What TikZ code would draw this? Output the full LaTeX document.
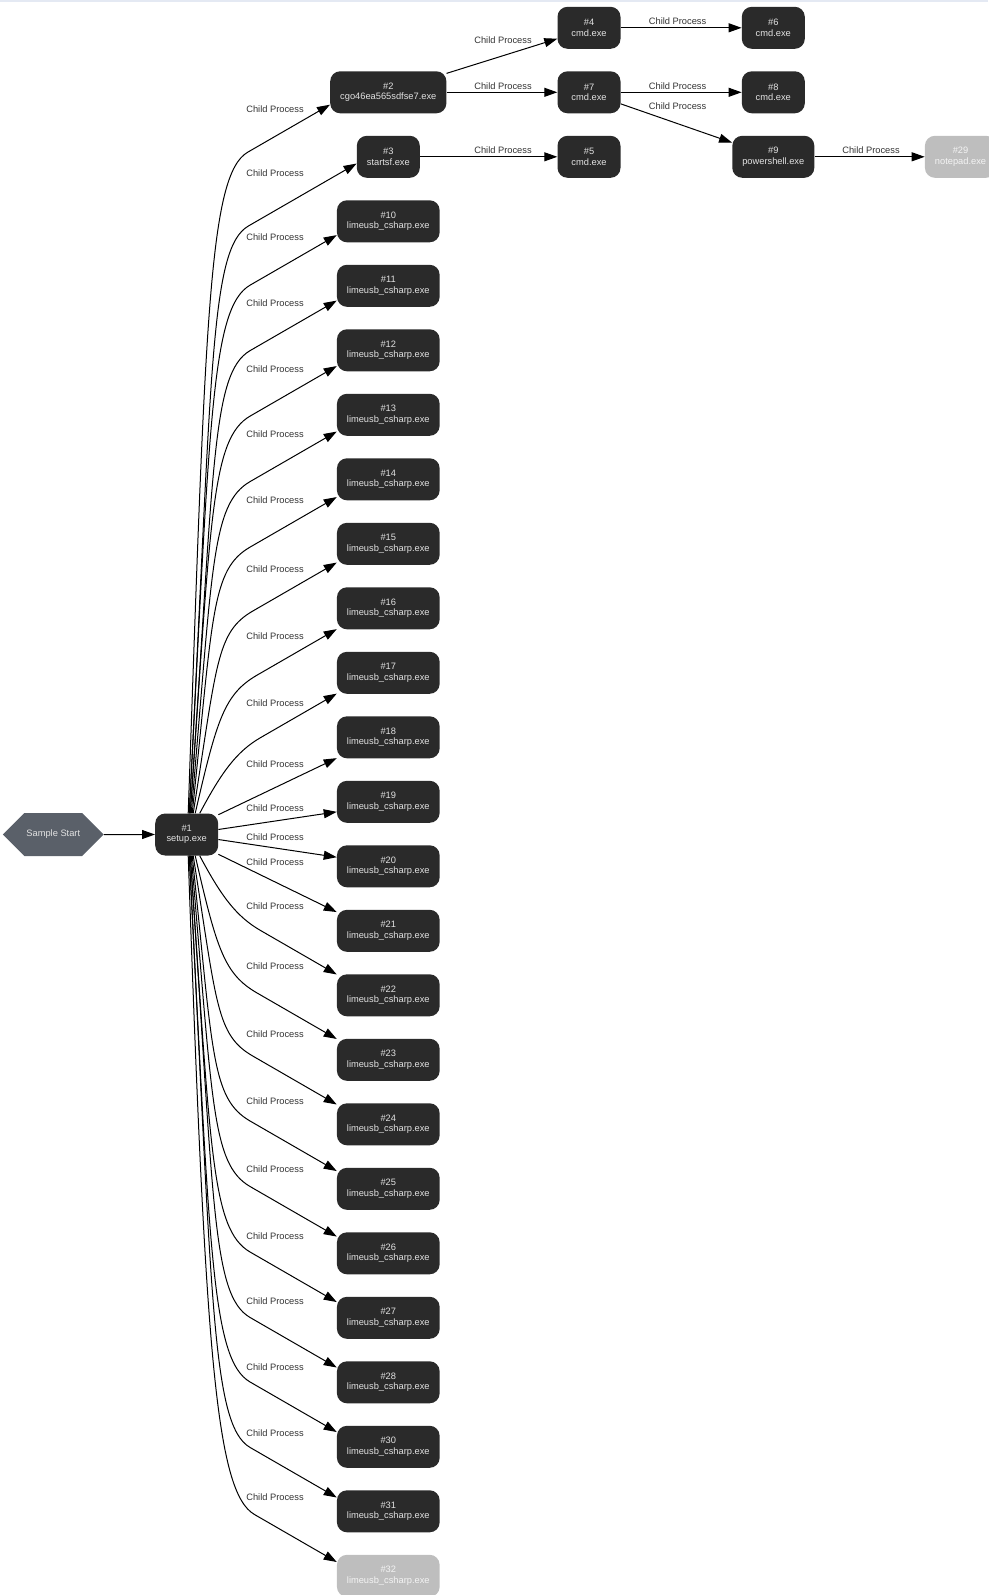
\documentclass[tikz,border=0pt]{standalone}
\usepackage{fontspec}
\setmainfont{Liberation Sans}
\usetikzlibrary{arrows.meta, shapes.symbols, positioning}
\definecolor{procfill}{HTML}{2A2A2A}
\definecolor{proctext}{HTML}{E2E2E2}
\definecolor{gonefill}{HTML}{BEBEBE}
\definecolor{gonetext}{HTML}{F4F4F4}
\definecolor{startfill}{HTML}{5A6069}
\definecolor{edgetext}{HTML}{333333}
\definecolor{topbar}{HTML}{E4E9F3}
\tikzstyle{proc} = [rectangle, rounded corners=10pt, fill=procfill, text=proctext, minimum width=63pt, minimum height=42pt, inner xsep=10pt, align=center, font=\fontsize{9.3}{10.5}\selectfont]
\tikzstyle{gone} = [proc, fill=gonefill, text=gonetext]
\tikzstyle{startnode} = [signal, signal to=east and west, signal pointer angle=90, fill=startfill, text=proctext, minimum width=97pt, minimum height=43pt, inner xsep=2pt, font=\fontsize{9.3}{10.5}\selectfont]
\tikzstyle{arrow} = [line width=1pt, -{Triangle[length=13pt, width=9pt]}]
\tikzstyle{lbl} = [text=edgetext, inner sep=0pt, font=\fontsize{9.3}{10.5}\selectfont]

\begin{document}
\begin{tikzpicture}[x=1pt, y=1pt, node distance=64.5pt]
    \useasboundingbox (0,0) rectangle (988,-1595);
    \fill [topbar] (0,0) rectangle (988,-2.2);

    \node (setup) [proc] at (186.7,-834.5) {\#1\\setup.exe};
    \node (sample) [startnode, left of=setup, node distance=133.4pt] {Sample Start};
    \node (n2) [proc] at (388.3,-92.3) {\#2\\cgo46ea565sdfse7.exe};
    \node (n3) [proc, below of=n2] {\#3\\startsf.exe};
    \foreach \n [remember=\n as \p (initially 3)] in {10,...,28,30,31}
        \node (n\n) [proc, below of=n\p] {\#\n\\limeusb\_csharp.exe};
    \node (n32) [gone, below of=n31] {\#32\\limeusb\_csharp.exe};
    \node (n7) [proc, right of=n2, node distance=200.7pt] {\#7\\cmd.exe};
    \node (n4) [proc, above of=n7] {\#4\\cmd.exe};
    \node (n5) [proc, below of=n7] {\#5\\cmd.exe};
    \node (n6) [proc, right of=n4, node distance=184.3pt] {\#6\\cmd.exe};
    \node (n8) [proc, right of=n7, node distance=184.3pt] {\#8\\cmd.exe};
    \node (n9) [proc, below of=n8] {\#9\\powershell.exe};
    \node (n29) [gone, right of=n9, node distance=187.2pt] {\#29\\notepad.exe};

    \draw [arrow] (sample) -- (setup);

    \foreach \n/\sx/\a/\o/\od/\id/\L/\ly in {2/1.5/192.5/88/495/45/95/109, 3/2.5/192/87/440/45/125/173, 10/2.5/195/87/395/45/100/237, 11/3.5/196/86/346/45/100/303, 12/3.5/197/86/297/45/100/369, 13/4.5/198/85/248/45/100/434.5, 14/5.5/199/84/200/45/100/500.6, 15/6.5/200.5/81/152/42/97/569, 16/8.5/202/77/96/38/92/636, 17/13/202/62/46/28/88/703}
    {
        \draw [arrow] ([xshift=\sx pt]setup.north) to[out=\o, in=210, out distance=\od pt, in distance=\id pt] ([shift={(210:\L pt)}]n\n.\a) -- (n\n.\a);
        \node (l\n) [lbl] at (275,-\ly) {Child Process};
    }
    \foreach \n/\sx/\a/\o/\od/\id/\L/\ly in {22/13/158/298/46/28/88/906.5, 23/8.5/158/283/96/38/92/966.6, 24/6.5/159.5/279/151/42/97/1033.7, 25/5.5/161/276/199/45/100/1101, 26/4.5/162/275/247/45/100/1169, 27/3.5/163/274/296/45/100/1236, 28/3.5/164/274/345/45/100/1301, 30/2.5/164/273/395/45/100/1367.5, 31/2.5/165/273/443/45/100/1432.7, 32/1.5/165/272/495/45/95/1496.7}
    {
        \draw [arrow] ([xshift=\sx pt]setup.south) to[out=\o, in=150, out distance=\od pt, in distance=\id pt] ([shift={(150:\L pt)}]n\n.\a) -- (n\n.\a);
        \node (l\n) [lbl] at (275,-\ly) {Child Process};
    }
    \foreach \n/\s/\a/\ly in {18/32/202/764, 19/9/191/808, 20/-9/170/837, 21/-32/160/862}
    {
        \draw [arrow] (setup.\s) -- (n\n.\a);
        \node (l\n) [lbl] at (275,-\ly) {Child Process};
    }

    \draw [arrow] (n2.18) -- (n4.199);
    \draw [arrow] (n2) -- (n7);
    \draw [arrow] (n3) -- (n5);
    \draw [arrow] (n4) -- (n6);
    \draw [arrow] (n7) -- (n8);
    \draw [arrow] (n7.-20) -- (n9.161);
    \draw [arrow] (n9) -- (n29);
    \node (l4) [lbl] at (503,-40) {Child Process};
    \node (l7) [lbl] at (503,-86.5) {Child Process};
    \node (l5) [lbl] at (503,-150.6) {Child Process};
    \node (l6) [lbl] at (677.6,-21.4) {Child Process};
    \node (l8) [lbl] at (677.6,-86.5) {Child Process};
    \node (l9) [lbl] at (677.6,-105.8) {Child Process};
    \node (l29) [lbl] at (871,-150.6) {Child Process};
\end{tikzpicture}
\end{document}
